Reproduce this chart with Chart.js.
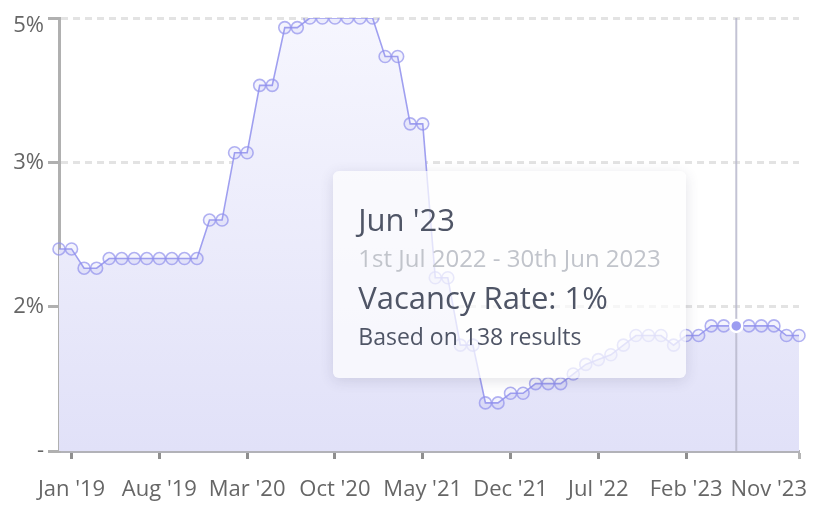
<!DOCTYPE html>
<html><head><meta charset="utf-8">
<script src="https://cdn.jsdelivr.net/npm/chart.js@4.4.0/dist/chart.umd.min.js"></script>
<style>
html,body{margin:0;padding:0;background:#fff;}
#wrap{position:relative;width:824px;height:511px;overflow:hidden;}
#c{display:block;}
#tt{position:absolute;left:0;top:0;opacity:0;pointer-events:none;box-sizing:border-box;
  background:rgba(253,253,254,0.72);border-radius:6px;box-shadow:0 3px 14px rgba(60,60,90,0.14);
  padding:28.5px 25px 23.5px 25px;font-family:"Open Sans",sans-serif;white-space:nowrap;color:#4f5566;}
#tt .t{font-size:31px;line-height:40px;height:40px;}
#tt .s{font-size:24px;line-height:37px;height:37px;color:#c1c4cb;}
#tt .b{font-size:31px;line-height:43px;height:43px;}
#tt .f{font-size:23px;line-height:35px;height:35px;}
</style></head><body>
<div id="wrap"><canvas id="c" width="824" height="511"></canvas><div id="tt"></div></div>
<script>
const months = ["Dec '18","Jan '19","Feb '19","Mar '19","Apr '19","May '19","Jun '19","Jul '19","Aug '19","Sep '19","Oct '19","Nov '19",
  "Dec '19","Jan '20","Feb '20","Mar '20","Apr '20","May '20","Jun '20","Jul '20","Aug '20","Sep '20","Oct '20","Nov '20",
  "Dec '20","Jan '21","Feb '21","Mar '21","Apr '21","May '21","Jun '21","Jul '21","Aug '21","Sep '21","Oct '21","Nov '21",
  "Dec '21","Jan '22","Feb '22","Mar '22","Apr '22","May '22","Jun '22","Jul '22","Aug '22","Sep '22","Oct '22","Nov '22",
  "Dec '22","Jan '23","Feb '23","Mar '23","Apr '23","May '23","Jun '23","Jul '23","Aug '23","Sep '23","Oct '23","Nov '23"];
const vacancyRate = [2.1,2.1,1.9,1.9,2.0,2.0,2.0,2.0,2.0,2.0,2.0,2.0,
  2.4,2.4,3.1,3.1,3.8,3.8,4.4,4.4,4.5,4.5,4.5,4.5,
  4.5,4.5,4.1,4.1,3.4,3.4,1.8,1.8,1.1,1.1,0.5,0.5,
  0.6,0.6,0.7,0.7,0.7,0.8,0.9,0.95,1.0,1.1,1.2,1.2,
  1.2,1.1,1.2,1.2,1.3,1.3,1.3,1.3,1.3,1.3,1.2,1.2];
const xTickLabels = ["Jan '19","Aug '19","Mar '20","Oct '20","May '21","Dec '21","Jul '22","Feb '23","Nov '23"];
const yTickValues = [0, 1.5, 3, 4.5];
const yTickLabels = ["-", "2%", "3%", "5%"];
const hoverIndex = 54;
const tooltipPeriod = "1st Jul 2022 - 30th Jun 2023";
const tooltipResults = 138;

const FONT = '"Open Sans", sans-serif';
const isShown = (i) => xTickLabels.includes(months[i]);

const crosshair = {
  id: 'crosshair',
  beforeDraw(chart) {
    // keep edge labels inside the canvas, as in the original
    const xi = chart.scales.x.getLabelItems();
    if (!xi._shifted && xi.length) { xi[xi.length - 1].options.translation[0] += 8; xi._shifted = true; }
    const yi = chart.scales.y.getLabelItems();
    if (!yi._shifted) {
      yi.forEach(it => { if (it.label === yTickLabels[yTickLabels.length - 1]) it.options.translation[1] += 8; });
      yi._shifted = true;
    }
  },
  beforeDatasetsDraw(chart) {
    const act = chart.getActiveElements();
    if (!act.length) return;
    const x = act[0].element.x;
    const {ctx, chartArea} = chart;
    ctx.save();
    ctx.strokeStyle = 'rgba(185,185,205,0.85)';
    ctx.lineWidth = 2;
    ctx.beginPath();
    ctx.moveTo(x, chartArea.top);
    ctx.lineTo(x, chartArea.bottom);
    ctx.stroke();
    ctx.restore();
  }
};

function externalTooltip({chart, tooltip}) {
  const el = document.getElementById('tt');
  if (tooltip.opacity === 0) { el.style.opacity = 0; return; }
  const dp = tooltip.dataPoints[0];
  el.innerHTML = '<div class="t">' + dp.label + '</div>' +
    '<div class="s">' + tooltipPeriod + '</div>' +
    '<div class="b">Vacancy Rate: ' + Math.round(dp.raw) + '%</div>' +
    '<div class="f">Based on ' + tooltipResults + ' results</div>';
  el.style.opacity = 1;
  el.style.left = (tooltip.caretX - 51 - el.offsetWidth) + 'px';
  el.style.top = (tooltip.caretY - 155) + 'px';
}

const chart = new Chart(document.getElementById('c'), {
  type: 'line',
  data: {
    labels: months,
    datasets: [{
      data: vacancyRate,
      borderColor: 'rgba(150,150,238,0.9)',
      borderWidth: 1.6,
      tension: 0,
      fill: 'origin',
      backgroundColor: (ctx) => {
        const a = ctx.chart.chartArea;
        if (!a) return '#ececfa';
        const g = ctx.chart.ctx.createLinearGradient(0, a.top, 0, a.bottom);
        g.addColorStop(0, '#f6f6fe');
        g.addColorStop(1, '#e1e1f8');
        return g;
      },
      pointRadius: 6,
      pointBorderWidth: 1.6,
      pointBorderColor: 'rgba(145,145,236,0.7)',
      pointBackgroundColor: 'rgba(150,150,238,0.1)',
      pointHoverRadius: 6,
      pointHoverBorderWidth: 2.5,
      pointHoverBorderColor: '#ffffff',
      pointHoverBackgroundColor: '#9c9df1'
    }]
  },
  options: {
    responsive: false,
    animation: false,
    events: [],
    layout: { padding: { top: 18, right: 25, bottom: 0, left: 0 } },
    plugins: {
      legend: { display: false },
      filler: { drawTime: 'beforeDatasetsDraw' },
      tooltip: { enabled: false, external: externalTooltip, mode: 'index', intersect: false }
    },
    scales: {
      x: {
        type: 'category',
        afterFit: (s) => { s.height = 60; },
        grid: {
          drawOnChartArea: false, drawTicks: true, tickLength: 8, tickWidth: 3,
          tickColor: (ctx) => isShown(ctx.index) ? (ctx.index === months.length - 1 ? '#b5b5b5' : '#8f8f8f') : 'rgba(0,0,0,0)'
        },
        border: { color: '#b2b2b8', width: 3 },
        ticks: {
          autoSkip: false, maxRotation: 0, minRotation: 0, align: 'inner', padding: 18,
          color: '#666', font: { family: FONT, size: 22 },
          callback: (v, i) => isShown(i) ? months[i] : ''
        }
      },
      y: {
        min: 0, max: 4.5,
        afterFit: (s) => { s.width = 59; },
        afterBuildTicks: (s) => { s.ticks = yTickValues.map(v => ({ value: v })); },
        grid: {
          color: '#e3e3e3', lineWidth: 3, tickColor: '#b0b0b0', tickWidth: 3, tickLength: 11, tickBorderDash: []
        },
        border: { color: '#b0b0b0', width: 3, dash: [7, 5] },
        ticks: {
          padding: 4, color: '#666', font: { family: FONT, size: 22 },
          callback: (v) => { const k = yTickValues.indexOf(v); return k >= 0 ? yTickLabels[k] : ''; }
        }
      }
    }
  },
  plugins: [crosshair]
});

const meta = chart.getDatasetMeta(0);
const pt = meta.data[hoverIndex];
chart.setActiveElements([{ datasetIndex: 0, index: hoverIndex }]);
chart.tooltip.setActiveElements([{ datasetIndex: 0, index: hoverIndex }], { x: pt.x, y: pt.y });
chart.update();
</script>
</body></html>
